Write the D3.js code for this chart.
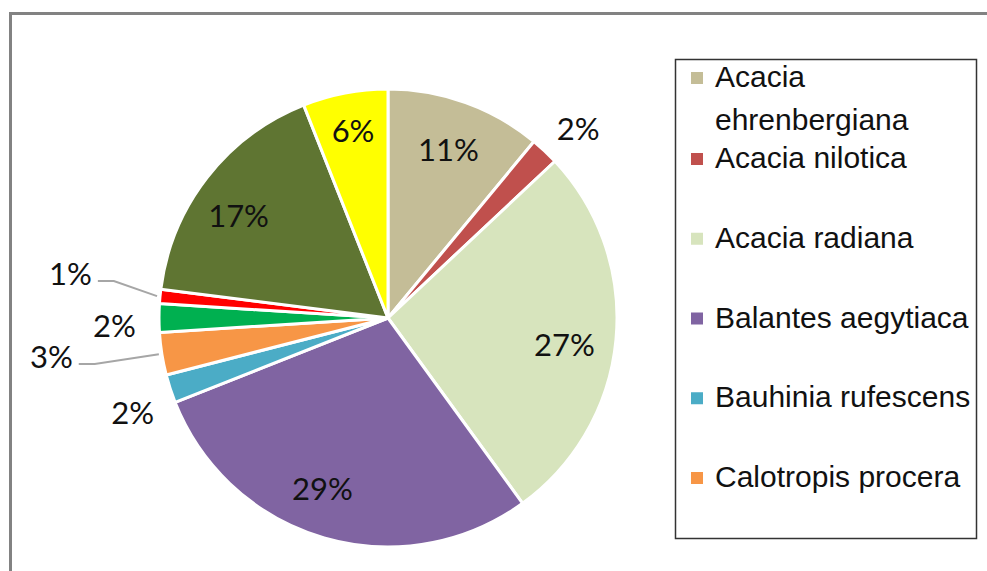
<!DOCTYPE html>
<html>
<head>
<meta charset="utf-8">
<script src="https://cdn.jsdelivr.net/npm/d3@7"></script>
<style>
  html, body { margin: 0; padding: 0; background: #fff; }
  svg { display: block; }
</style>
</head>
<body>
<svg id="chart" width="987" height="571"></svg>
<script>
// Share of each species (percent), clockwise from 12 o'clock
const species = [
  "Acacia ehrenbergiana",
  "Acacia nilotica",
  "Acacia radiana",
  "Balantes aegytiaca",
  "Bauhinia rufescens",
  "Calotropis procera",
  "Species 7",
  "Species 8",
  "Species 9",
  "Species 10"
];
const shares = [11, 2, 27, 29, 2, 3, 2, 1, 17, 6];
const shareLabels = ["11%", "2%", "27%", "29%", "2%", "3%", "2%", "1%", "17%", "6%"];
// Number of entries that fit in the legend box
const legendCount = 6;

const palette = [
  "#C4BD97", "#C0504D", "#D7E4BD", "#8064A2", "#4BACC6",
  "#F79646", "#00B050", "#FF0000", "#5F7532", "#FFFF00"
];

const svg = d3.select("#chart");
const cx = 388, cy = 318, R = 229;

// Outer chart frame (runs off the right and bottom edges)
svg.append("rect")
  .attr("x", 10.5).attr("y", 13.5)
  .attr("width", 1100).attr("height", 700)
  .attr("fill", "none")
  .attr("stroke", "#828282")
  .attr("stroke-width", 3);

const data = species.map((name, i) => ({ name, value: shares[i], label: shareLabels[i], i }));

const pie = d3.pie().sort(null).value(d => d.value);
const arcs = pie(data);
const arc = d3.arc().innerRadius(0).outerRadius(R);

const colour = d3.scaleOrdinal().domain(species).range(palette);

const g = svg.append("g").attr("transform", `translate(${cx},${cy})`);

g.selectAll("path.slice")
  .data(arcs)
  .join("path")
  .attr("class", "slice")
  .attr("d", arc)
  .attr("fill", d => colour(d.data.name))
  .attr("stroke", "#fff")
  .attr("stroke-width", 3)
  .attr("stroke-linejoin", "round");

// Label placement: radius as a fraction of R and an optional angle override (degrees)
const placement = {
  0: { k: 0.78 },
  1: { k: 1.17, a: 45.2 },
  2: { k: 0.78, a: 98.8 },
  3: { k: 0.80, a: 201 },
  4: { k: 1.19, a: 249.6 },
  5: { k: 1.48, a: 263.4, leader: true },
  6: { k: 1.195, a: 268.3 },
  7: { k: 1.40, a: 277.9, leader: true },
  8: { k: 0.79, a: 304.3 },
  9: { k: 0.83, a: 349.4 }
};

function polar(angleRad, r) {
  return [r * Math.sin(angleRad), -r * Math.cos(angleRad)];
}

arcs.forEach(d => {
  const p = placement[d.index];
  const mid = (d.startAngle + d.endAngle) / 2;
  const ang = p.a !== undefined ? p.a * Math.PI / 180 : mid;
  const [x, y] = polar(ang, p.k * R);

  const t = g.append("text")
    .attr("x", x).attr("y", y)
    .attr("dy", "0.36em")
    .attr("text-anchor", "middle")
    .attr("font-family", "Lato, 'Open Sans', sans-serif")
    .attr("font-size", 31)
    .attr("fill", "#111")
    .text(d.data.label);

  if (p.leader) {
    const bb = t.node().getBBox();
    const sx = bb.x + bb.width + 6;
    const sy = y + 7;
    const [ex, ey] = polar(mid, R + 3);
    g.append("path")
      .attr("d", d3.line()([[sx, sy], [sx + 16, sy], [ex, ey]]))
      .attr("fill", "none")
      .attr("stroke", "#A6A6A6")
      .attr("stroke-width", 2);
  }
});

// Legend
const legend = svg.append("g");
legend.append("rect")
  .attr("x", 675.5).attr("y", 59.5)
  .attr("width", 301).attr("height", 479)
  .attr("fill", "#fff")
  .attr("stroke", "#333")
  .attr("stroke-width", 1.5);

const legendItems = data.slice(0, legendCount);
// Baseline of each entry; the first entry wraps onto two lines
const rowY = d3.scaleLinear().domain([1, legendCount - 1]).range([168, 487]);
const lineGap = 43;

legendItems.forEach((d, i) => {
  const words = d.name.split(" ");
  const lines = i === 0 ? [words[0], words.slice(1).join(" ")] : [d.name];
  const firstBase = i === 0 ? 87 : rowY(i);

  legend.append("rect")
    .attr("x", 691).attr("y", firstBase - 15)
    .attr("width", 12).attr("height", 12)
    .attr("fill", colour(d.name));

  lines.forEach((ln, j) => {
    legend.append("text")
      .attr("x", 715).attr("y", firstBase + j * lineGap)
      .attr("font-family", "'Liberation Sans', Arial, sans-serif")
      .attr("font-size", 30)
      .attr("fill", "#111")
      .text(ln);
  });
});
</script>
</body>
</html>
